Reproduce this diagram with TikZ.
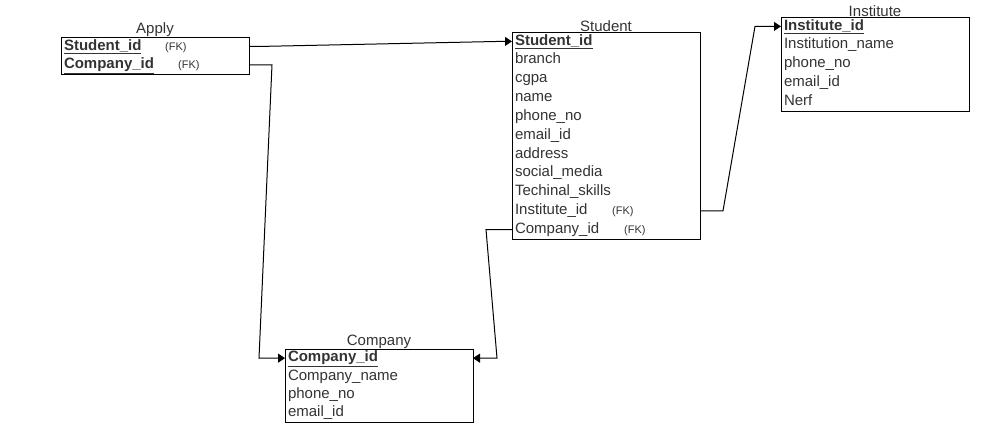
\documentclass[tikz,border=0pt]{standalone}
\usepackage{fontspec}
\setmainfont{Liberation Sans}
\usetikzlibrary{arrows.meta}
\definecolor{txt}{HTML}{333333}
\tikzset{
 tbl/.style={draw=black, line width=1pt, anchor=north west, inner sep=0pt, outer sep=0pt, minimum width=188pt},
 row/.style={anchor=north west, text width=182pt, inner xsep=3pt, inner ysep=0pt, outer sep=0pt,
   text height=11pt, text depth=3.5pt, minimum height=#1, font=\fontsize{15}{18}\selectfont, text=txt, align=left},
 ttl/.style={anchor=south, inner sep=0pt, font=\fontsize{15}{18}\selectfont, text=txt, yshift=0.5pt},
 fk/.style={anchor=base west, inner sep=0pt, font=\fontsize{11}{13}\selectfont, text=txt},
 conn/.style={draw=black, line width=1pt, -{Triangle[length=7pt,width=9pt]}},
}
\newcommand{\pk}[1]{\underline{\textbf{#1}}}
\begin{document}
\begin{tikzpicture}[x=1pt,y=-1pt]
\useasboundingbox (0,0) rectangle (996,445);

% Apply
\node[tbl, minimum height=37pt] (apply) at (61,37) {};
\node[ttl] (applyt) at (apply.north) {Apply};
\node[row=18.5pt] (a1) at (apply.north west) {\pk{Student\_id}};
\node[row=18.5pt] (a2) at (a1.south west) {\pk{Company\_id}};
\node[fk] (a1fk) at ([xshift=104pt]a1.base west) {(FK)};
\node[fk] (a2fk) at ([xshift=117pt]a2.base west) {(FK)};

% Student
\node[tbl, minimum height=207pt] (student) at (512,32) {};
\node[ttl] (studentt) at (student.north) {Student};
\node[row=18.82pt] (s1) at (student.north west) {\pk{Student\_id}};
\node[row=18.82pt] (s2) at (s1.south west) {branch};
\node[row=18.82pt] (s3) at (s2.south west) {cgpa};
\node[row=18.82pt] (s4) at (s3.south west) {name};
\node[row=18.82pt] (s5) at (s4.south west) {phone\_no};
\node[row=18.82pt] (s6) at (s5.south west) {email\_id};
\node[row=18.82pt] (s7) at (s6.south west) {address};
\node[row=18.82pt] (s8) at (s7.south west) {social\_media};
\node[row=18.82pt] (s9) at (s8.south west) {Techinal\_skills};
\node[row=18.82pt] (s10) at (s9.south west) {Institute\_id};
\node[row=18.82pt] (s11) at (s10.south west) {Company\_id};
\node[fk] (s10fk) at ([xshift=100pt]s10.base west) {(FK)};
\node[fk] (s11fk) at ([xshift=112pt]s11.base west) {(FK)};

% Institute
\node[tbl, minimum height=94pt] (inst) at (781,17) {};
\node[ttl] (instt) at (inst.north) {Institute};
\node[row=18.8pt] (i1) at (inst.north west) {\pk{Institute\_id}};
\node[row=18.8pt] (i2) at (i1.south west) {Institution\_name};
\node[row=18.8pt] (i3) at (i2.south west) {phone\_no};
\node[row=18.8pt] (i4) at (i3.south west) {email\_id};
\node[row=18.8pt] (i5) at (i4.south west) {Nerf};

% Company
\node[tbl, minimum height=73pt] (comp) at (285,349) {};
\node[ttl] (compt) at (comp.north) {Company};
\node[row=18.25pt] (c1) at (comp.north west) {\pk{Company\_id}};
\node[row=18.25pt] (c2) at (c1.south west) {Company\_name};
\node[row=18.25pt] (c3) at (c2.south west) {phone\_no};
\node[row=18.25pt] (c4) at (c3.south west) {email\_id};

% Connectors
\draw[conn] (a1.east) -- ([xshift=20pt]a1.east) -- ([xshift=-12pt]s1.west) -- (s1.west);
\draw[conn] (a2.east) -- ([xshift=23pt]a2.east) -- ([xshift=-26pt]c1.west) -- (c1.west);
\draw[conn] (s11.west) -- ([xshift=-26pt]s11.west) -- ([xshift=24pt]c1.east) -- (c1.east);
\draw[conn] (s10.east) -- ([xshift=23pt]s10.east) -- ([xshift=-26pt]i1.west) -- (i1.west);
\end{tikzpicture}
\end{document}
